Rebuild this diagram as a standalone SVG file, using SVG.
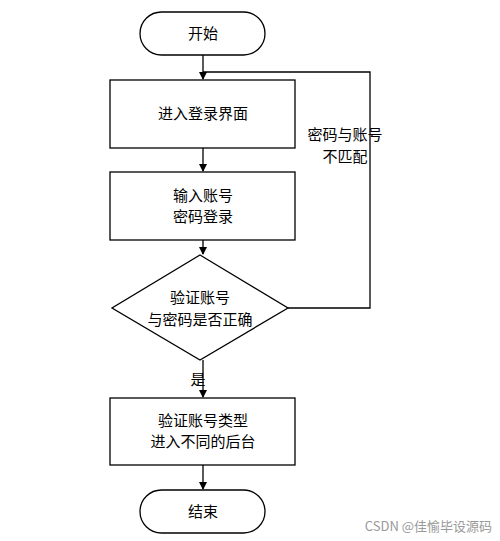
<svg xmlns="http://www.w3.org/2000/svg" width="500" height="541" viewBox="0 0 500 541">
<style>
.s{fill:#fff;stroke:#000;stroke-width:1.3}
.t{font-family:"Noto Sans CJK SC","Liberation Sans",sans-serif;font-size:15px;text-anchor:middle;fill:#000}
.c{fill:none;stroke:#000;stroke-width:1.3}
</style>
<defs><marker id="a" markerWidth="8" markerHeight="8" refX="7" refY="4" orient="auto" markerUnits="userSpaceOnUse"><path d="M0,0L8,4L0,8z" fill="#000"/></marker></defs>
<rect width="500" height="541" fill="#fff"/>
<g id="connectors">
<path class="c" d="M203,55V79" marker-end="url(#a)"/>
<path class="c" d="M203,148V171" marker-end="url(#a)"/>
<path class="c" d="M203,240V254" marker-end="url(#a)"/>
<path class="c" d="M203,360V397" marker-end="url(#a)"/>
<path class="c" d="M203,465V489" marker-end="url(#a)"/>
<path class="c" d="M288,308H370V72H203"/>
<text class="t" x="345" y="140">密码与账号</text>
<text class="t" x="345" y="162">不匹配</text>
<text class="t" x="198" y="385">是</text>
</g>
<g id="start"><rect class="s" x="140" y="12" width="125" height="43" rx="21.5"/><text class="t" x="203" y="39">开始</text></g>
<g id="login"><rect class="s" x="110" y="80" width="185" height="68"/><text class="t" x="203" y="119">进入登录界面</text></g>
<g id="input"><rect class="s" x="110" y="172" width="185" height="68"/><text class="t" x="203" y="201">输入账号</text><text class="t" x="203" y="222">密码登录</text></g>
<g id="verify"><path class="s" d="M200,255L288,308L200,360L112,308Z"/><text class="t" x="200" y="303">验证账号</text><text class="t" x="200" y="325">与密码是否正确</text></g>
<g id="type"><rect class="s" x="110" y="398" width="185" height="67"/><text class="t" x="203" y="426">验证账号类型</text><text class="t" x="203" y="447">进入不同的后台</text></g>
<g id="end"><rect class="s" x="140" y="490" width="125" height="43" rx="21.5"/><text class="t" x="203" y="517">结束</text></g>
<text x="492" y="531" style="font-family:'Noto Sans CJK SC','Liberation Sans',sans-serif;font-size:13px;fill:#999;text-anchor:end">CSDN @佳愉毕设源码</text>
</svg>
